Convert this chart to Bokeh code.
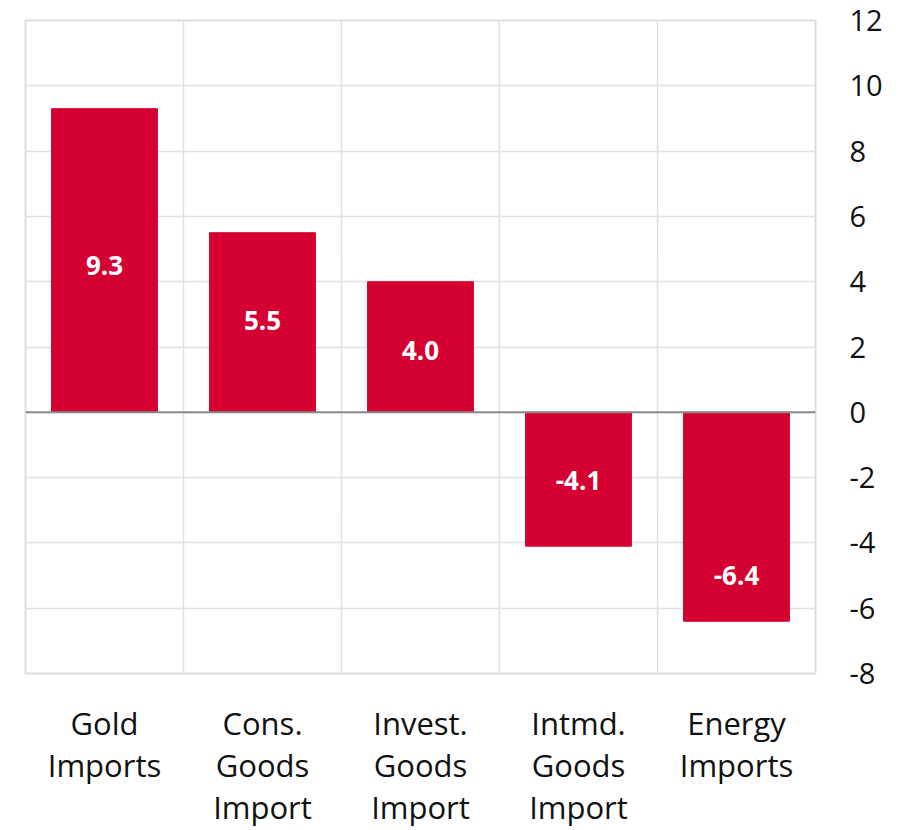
from bokeh.plotting import figure
from bokeh.models import ColumnDataSource, FixedTicker, LinearAxis, Range1d, Span, LabelSet
from bokeh.core.properties import value
from bokeh.embed import file_html
from bokeh.resources import INLINE

categories = ["Gold\nImports", "Cons.\nGoods\nImport", "Invest.\nGoods\nImport", "Intmd.\nGoods\nImport", "Energy\nImports"]
values = [9.3, 5.5, 4.0, -4.1, -6.4]
label_y = [4.5, 2.8, 1.9, -2.1, -5.0]
y_ticks = [-8, -6, -4, -2, 0, 2, 4, 6, 8, 10, 12]
y_tick_labels = ["-8", "-6", "-4", "-2", "0", "2", "4", "6", "8", "10", "12"]

xs = [i + 0.5 for i in range(len(categories))]
src = ColumnDataSource(dict(
    x=xs, top=values, ly=label_y,
    lab=[f"{v:.1f}" for v in values],
))

FONT = "Open Sans"
p = figure(width=909, height=830, output_backend="svg", toolbar_location=None,
           x_range=Range1d(0, len(categories)), y_range=Range1d(-8, 12),
           y_axis_location=None, x_axis_location=None,
           min_border_left=25, min_border_right=94, min_border_top=20, min_border_bottom=154)
p.outline_line_color = "#dddddd"
p.outline_line_width = 2

p.xgrid.ticker = FixedTicker(ticks=[1, 2, 3, 4])
p.ygrid.ticker = FixedTicker(ticks=y_ticks)
p.xgrid.grid_line_color = "#e0e0e0"
p.ygrid.grid_line_color = "#e0e0e0"
p.xgrid.grid_line_width = 1.5
p.ygrid.grid_line_width = 1.5

p.vbar(x="x", top="top", bottom=0, width=0.67, source=src, color="#D50032")
p.add_layout(Span(location=0, dimension="width", line_color="#8a8a8a", line_width=2))

labels = LabelSet(x="x", y="ly", text="lab", source=src, text_color="white",
                  text_font=value(FONT), text_font_style="bold", text_font_size="26px",
                  text_align="center", text_baseline="middle")
p.add_layout(labels)

yaxis = LinearAxis(ticker=FixedTicker(ticks=y_ticks))
yaxis.major_label_overrides = {t: s for t, s in zip(y_ticks, y_tick_labels)}
yaxis.axis_line_color = None
yaxis.major_tick_line_color = None
yaxis.minor_tick_line_color = None
yaxis.major_label_text_font = FONT
yaxis.major_label_text_font_size = "29px"
yaxis.major_label_text_color = "#111111"
yaxis.major_label_standoff = 28
p.add_layout(yaxis, "right")

xaxis = LinearAxis(ticker=FixedTicker(ticks=xs))
xaxis.major_label_overrides = {x: c for x, c in zip(xs, categories)}
xaxis.axis_line_color = None
xaxis.major_tick_line_color = None
xaxis.minor_tick_line_color = None
xaxis.major_label_text_font = FONT
xaxis.major_label_text_font_size = "31px"
xaxis.major_label_text_color = "#111111"
xaxis.major_label_text_line_height = 1.0
xaxis.major_label_standoff = 22
p.add_layout(xaxis, "below")

open("out.html", "w").write(file_html(p, INLINE))
